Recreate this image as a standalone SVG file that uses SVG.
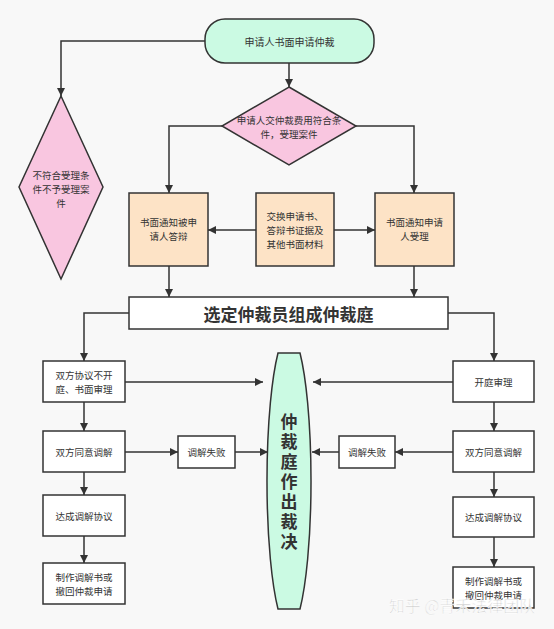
<svg xmlns="http://www.w3.org/2000/svg" width="554" height="629" viewBox="0 0 554 629">
<defs>
<marker id="ah" viewBox="0 0 10 10" refX="10" refY="5" markerWidth="8" markerHeight="8" markerUnits="userSpaceOnUse" orient="auto">
<path d="M0,0 L10,5 L0,10 Z" fill="#333"/>
</marker>
<style>
.ln{fill:none;stroke:#333;stroke-width:1.5;marker-end:url(#ah)}
.bx{fill:#ffffff;stroke:#333;stroke-width:1.5}
.pc{fill:#fde3c6;stroke:#333;stroke-width:1.5}
.mn{fill:#cbfae3;stroke:#333;stroke-width:1.5}
.pk{fill:#f9c6e0;stroke:#333;stroke-width:1.5}
.t{font-family:"Noto Sans CJK SC","Noto Sans",sans-serif;font-size:9.5px;fill:#333;text-anchor:middle;dominant-baseline:central}
.tb{font-family:"Noto Sans CJK SC","Noto Sans",sans-serif;font-size:17px;font-weight:bold;fill:#333;text-anchor:middle;dominant-baseline:central}
</style>
</defs>
<rect width="554" height="629" fill="#f8f8f8"/>
<g id="connectors">
<path class="ln" d="M289,63 L289,87"/>
<path class="ln" d="M205,41 L61,41 L61,96"/>
<path class="ln" d="M222,126 L169,126 L169,193"/>
<path class="ln" d="M355,126 L414,126 L414,193"/>
<path class="ln" d="M256,230 L208,230"/>
<path class="ln" d="M334,230 L375,230"/>
<path class="ln" d="M169,266 L169,297"/>
<path class="ln" d="M414,266 L414,297"/>
<path class="ln" d="M129,313 L84,313 L84,361"/>
<path class="ln" d="M448,313 L494,313 L494,361"/>
<path class="ln" d="M125,382 L263,382"/>
<path class="ln" d="M84,402 L84,431"/>
<path class="ln" d="M125,452 L178,452"/>
<path class="ln" d="M235,452 L268,452"/>
<path class="ln" d="M84,472 L84,495"/>
<path class="ln" d="M84,536 L84,563"/>
<path class="ln" d="M453,382 L313,382"/>
<path class="ln" d="M494,402 L494,431"/>
<path class="ln" d="M453,452 L395,452"/>
<path class="ln" d="M339,452 L312,452"/>
<path class="ln" d="M494,472 L494,497"/>
<path class="ln" d="M494,537 L494,567"/>
</g>
<g id="start">
<rect class="mn" x="205" y="19" width="169" height="44" rx="20" ry="20"/>
<text class="t" x="289.5" y="41" style="font-size:10px">申请人书面申请仲裁</text>
</g>
<g id="accept">
<polygon class="pk" points="289,87 356,126 289,165 222,126"/>
<text class="t" x="289" y="120">申请人交仲裁费用符合条</text>
<text class="t" x="289" y="134">件，受理案件</text>
</g>
<g id="reject">
<polygon class="pk" points="61,96 103,187 61,279 19,187"/>
<text class="t" x="61" y="175">不符合受理条</text>
<text class="t" x="61" y="189">件不予受理案</text>
<text class="t" x="61" y="203">件</text>
</g>
<g id="notify-respondent">
<rect class="pc" x="129" y="193" width="79" height="73"/>
<text class="t" x="168.5" y="222">书面通知被申</text>
<text class="t" x="168.5" y="236">请人答辩</text>
</g>
<g id="exchange">
<rect class="pc" x="256" y="193" width="78" height="73"/>
<text class="t" x="295" y="216">交换申请书、</text>
<text class="t" x="295" y="230">答辩书证据及</text>
<text class="t" x="295" y="244">其他书面材料</text>
</g>
<g id="notify-applicant">
<rect class="pc" x="375" y="193" width="79" height="73"/>
<text class="t" x="414.5" y="222">书面通知申请</text>
<text class="t" x="414.5" y="236">人受理</text>
</g>
<g id="tribunal">
<rect class="bx" x="129" y="297" width="319" height="32"/>
<text class="tb" x="288.5" y="313">选定仲裁员组成仲裁庭</text>
</g>
<g id="award">
<path class="mn" d="M278,353 L300,353 A23,150 0 0 1 300,609 L278,609 A23,150 0 0 1 278,353 Z"/>
<text class="tb" x="289" y="483.5" style="writing-mode:vertical-rl;letter-spacing:3px">仲裁庭作出裁决</text>
</g>
<g id="written-review">
<rect class="bx" x="43" y="361" width="82" height="41"/>
<text class="t" x="84" y="374.5">双方协议不开</text>
<text class="t" x="84" y="388.5">庭、书面审理</text>
</g>
<g id="l-mediate">
<rect class="bx" x="43" y="431" width="82" height="41"/>
<text class="t" x="84" y="452">双方同意调解</text>
</g>
<g id="l-fail">
<rect class="bx" x="178" y="436" width="57" height="32"/>
<text class="t" x="206.5" y="452">调解失败</text>
</g>
<g id="l-agree">
<rect class="bx" x="43" y="495" width="82" height="41"/>
<text class="t" x="84" y="516">达成调解协议</text>
</g>
<g id="l-doc">
<rect class="bx" x="43" y="563" width="82" height="41"/>
<text class="t" x="84" y="576.5">制作调解书或</text>
<text class="t" x="84" y="590.5">撤回仲裁申请</text>
</g>
<g id="hearing">
<rect class="bx" x="453" y="361" width="81" height="41"/>
<text class="t" x="493.5" y="382">开庭审理</text>
</g>
<g id="r-mediate">
<rect class="bx" x="453" y="431" width="81" height="41"/>
<text class="t" x="493.5" y="452">双方同意调解</text>
</g>
<g id="r-fail">
<rect class="bx" x="339" y="436" width="56" height="32"/>
<text class="t" x="367" y="452">调解失败</text>
</g>
<g id="r-agree">
<rect class="bx" x="453" y="497" width="81" height="40"/>
<text class="t" x="493.5" y="517">达成调解协议</text>
</g>
<g id="r-doc">
<rect class="bx" x="453" y="567" width="81" height="41"/>
<text class="t" x="493.5" y="580.5">制作调解书或</text>
<text class="t" x="493.5" y="594.5">撤回仲裁申请</text>
</g>
<text x="462" y="605" font-family="'Noto Sans CJK SC','Noto Sans',sans-serif" font-size="16" fill="#c4c4c4" fill-opacity="0.85" stroke="#ffffff" stroke-width="0.6" text-anchor="middle" dominant-baseline="central">知乎 @青禾法律团队</text>
</svg>
